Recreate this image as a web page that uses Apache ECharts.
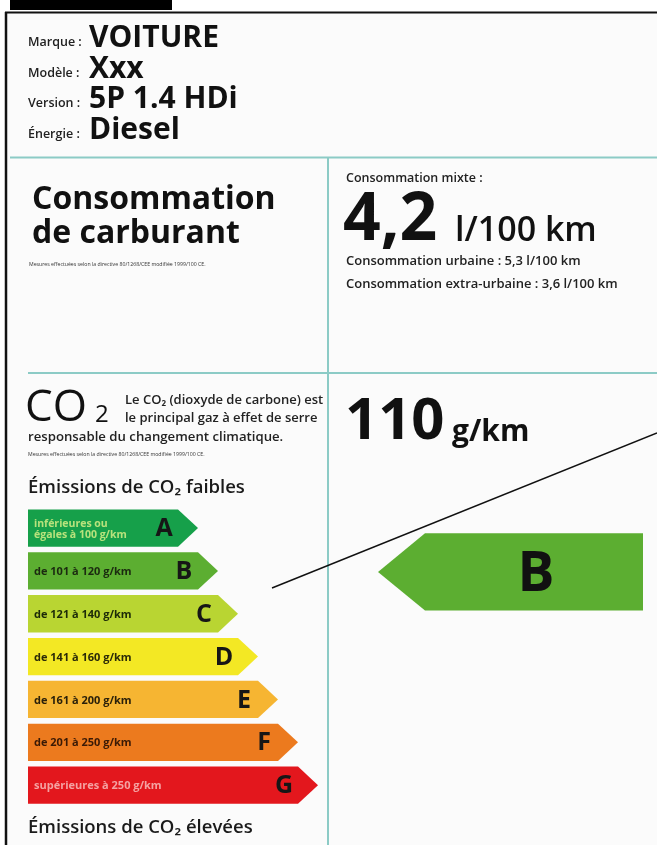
<!DOCTYPE html>
<html>
<head>
<meta charset="utf-8">
<script src="https://cdn.jsdelivr.net/npm/echarts@6/dist/echarts.min.js"></script>
<style>
  html, body { margin: 0; padding: 0; background: #ffffff; }
  #chart { width: 657px; height: 845px; }
</style>
</head>
<body>
<div id="chart"></div>
<script>
// label data
const infoLabels = ["Marque :", "Modèle :", "Version :", "Énergie :"];
const infoValues = ["VOITURE", "Xxx", "5P 1.4 HDi", "Diesel"];

const consoMixte = "4,2";
const consoUrbaine = "5,3";
const consoExtraUrbaine = "3,6";
const co2Value = 110;

const classes = ["A", "B", "C", "D", "E", "F", "G"];
const rangeLabels = [
  "inférieures ou\négales à 100 g/km",
  "de 101 à 120 g/km",
  "de 121 à 140 g/km",
  "de 141 à 160 g/km",
  "de 161 à 200 g/km",
  "de 201 à 250 g/km",
  "supérieures à 250 g/km",
];
// length of each class arrow (tip position, in tens of px from the left edge)
const barLength = [17, 19, 21, 23, 25, 27, 29];
const vehicleClass = "B";

const classColors = ["#16a04a", "#5cae31", "#b9d532", "#f3e824", "#f6b532", "#ec7a1e", "#e3171d"];
const rangeTextColors = ["#b8e27c", "#1b2a10", "#1c2a08", "#2a2a08", "#2a200a", "#3a1a06", "#f4a2a2"];

const FONT = '"Open Sans", "Noto Sans", sans-serif';
const TEAL = "#8ccbc6";

const chartDom = document.getElementById("chart");
const myChart = echarts.init(chartDom, null, { renderer: "canvas" });

// y is roughly the baseline of the text
const text = (x, y, str, size, weight, extra) => ({
  type: "text",
  x: x,
  y: y - size * 0.36,
  style: Object.assign(
    {
      text: str,
      font: weight + " " + size + "px " + FONT,
      fill: "#111111",
      verticalAlign: "middle",
    },
    extra || {}
  ),
});

const graphics = [
  // background of the label
  { type: "rect", shape: { x: 6, y: 12, width: 651, height: 833 }, style: { fill: "#fbfbfb" } },
  // black block at the top left
  { type: "rect", shape: { x: 10, y: 0, width: 162, height: 10 }, style: { fill: "#000000" } },
  // frame
  { type: "line", shape: { x1: 5, y1: 12.5, x2: 657, y2: 12.5 }, style: { stroke: "#111", lineWidth: 2 } },
  { type: "line", shape: { x1: 6, y1: 12, x2: 6, y2: 845 }, style: { stroke: "#111", lineWidth: 2.5 } },
  // teal separators
  { type: "line", shape: { x1: 10, y1: 157.5, x2: 657, y2: 157.5 }, style: { stroke: TEAL, lineWidth: 2 } },
  { type: "line", shape: { x1: 328, y1: 157, x2: 328, y2: 845 }, style: { stroke: TEAL, lineWidth: 2 } },
  { type: "line", shape: { x1: 28, y1: 373, x2: 657, y2: 373 }, style: { stroke: TEAL, lineWidth: 2 } },
];

// vehicle info rows
const rowBaselines = [49, 80, 110, 141];
infoLabels.forEach((l, i) => {
  graphics.push(text(28, rowBaselines[i] - 2, l, 12.5, 600, { fill: "#222" }));
  graphics.push(text(89, rowBaselines[i], infoValues[i], 30, 700));
});

// fuel consumption block
graphics.push(text(32, 211, "Consommation", 32, 700));
graphics.push(text(32, 245, "de carburant", 32, 700));
graphics.push(text(29, 266, "Mesures effectuées selon la directive 80/1268/CEE modifiée 1999/100 CE.", 5.2, 400, { fill: "#333" }));

graphics.push(text(346, 183, "Consommation mixte :", 12.5, 600, { fill: "#222" }));
graphics.push(text(343, 245, consoMixte, 66, 700));
graphics.push(text(455, 244, "l/100 km", 34, 600));
graphics.push(text(346, 266, "Consommation urbaine : " + consoUrbaine + " l/100 km", 13, 600, { fill: "#222" }));
graphics.push(text(346, 289, "Consommation extra-urbaine : " + consoExtraUrbaine + " l/100 km", 13, 600, { fill: "#222" }));

// CO2 block
graphics.push(text(25, 424, "CO", 44, 500));
graphics.push(text(95, 424, "2", 24, 500));
graphics.push(text(125, 405, "Le CO₂ (dioxyde de carbone) est", 13, 600, { fill: "#222" }));
graphics.push(text(125, 423, "le principal gaz à effet de serre", 13, 600, { fill: "#222" }));
graphics.push(text(28, 442, "responsable du changement climatique.", 13.2, 600, { fill: "#222" }));
graphics.push(text(28, 456, "Mesures effectuées selon la directive 80/1268/CEE modifiée 1999/100 CE.", 5.2, 400, { fill: "#333" }));
graphics.push(text(28, 494, "Émissions de CO₂ faibles", 18.5, 600, { fill: "#1a1a1a" }));
graphics.push(text(28, 834, "Émissions de CO₂ élevées", 18.5, 600, { fill: "#1a1a1a" }));

graphics.push(text(345, 443, String(co2Value), 58, 700));
graphics.push(text(452, 443, "g/km", 30, 700));

// pointer line
graphics.push({
  type: "line",
  shape: { x1: 272, y1: 588, x2: 657, y2: 433 },
  style: { stroke: "#111", lineWidth: 1.5 },
  z: 10,
});

const barSeriesData = classes.map((c, i) => [barLength[i], c]);

const options = {
  animation: false,
  grid: { left: 28, top: 506.6, width: 629, height: 300 },
  xAxis: { type: "value", min: 0, max: 62.9, show: false },
  yAxis: { type: "category", data: classes, inverse: true, show: false },
  graphic: graphics,
  series: [
    {
      type: "custom",
      encode: { x: 0, y: 1 },
      data: barSeriesData,
      renderItem: (params, api) => {
        const i = params.dataIndex;
        const start = api.coord([0, api.value(1)]);
        const end = api.coord([api.value(0), api.value(1)]);
        const h = api.size([0, 1])[1] * 0.87;
        const tip = 20;
        const x0 = start[0];
        const x1 = end[0];
        const yc = start[1];
        return {
          type: "group",
          children: [
            {
              type: "polygon",
              shape: {
                points: [
                  [x0, yc - h / 2],
                  [x1 - tip, yc - h / 2],
                  [x1, yc],
                  [x1 - tip, yc + h / 2],
                  [x0, yc + h / 2],
                ],
              },
              style: { fill: classColors[i] },
            },
            {
              type: "text",
              style: {
                text: rangeLabels[i],
                x: x0 + 6,
                y: yc + 1,
                verticalAlign: "middle",
                font: "700 " + (i === 0 ? 10.5 : 11) + "px " + FONT,
                lineHeight: 11,
                fill: rangeTextColors[i],
              },
            },
            {
              type: "text",
              style: {
                text: classes[i],
                x: x1 - 34,
                y: yc + 1,
                align: "center",
                verticalAlign: "middle",
                font: "700 25px " + FONT,
                fill: "#161616",
              },
            },
          ],
        };
      },
    },
    {
      // big arrow showing the vehicle class
      type: "custom",
      encode: { x: 0, y: 1 },
      data: [[0, vehicleClass]],
      renderItem: (params, api) => {
        const i = classes.indexOf(vehicleClass);
        const yc = api.coord([0, api.value(1)])[1] + 1;
        const h = api.size([0, 1])[1] * 1.8;
        const tipX = 378;
        const bodyX = 425;
        const rightX = 643;
        return {
          type: "group",
          children: [
            {
              type: "polygon",
              shape: {
                points: [
                  [tipX, yc],
                  [bodyX, yc - h / 2],
                  [rightX, yc - h / 2],
                  [rightX, yc + h / 2],
                  [bodyX, yc + h / 2],
                ],
              },
              style: { fill: classColors[i] },
            },
            {
              type: "text",
              style: {
                text: vehicleClass,
                x: 536,
                y: yc + 3,
                align: "center",
                verticalAlign: "middle",
                font: "700 55px " + FONT,
                fill: "#111111",
              },
            },
          ],
        };
      },
    },
  ],
};

myChart.setOption(options);

window.addEventListener("resize", () => {
  myChart.resize();
});
</script>
</body>
</html>
